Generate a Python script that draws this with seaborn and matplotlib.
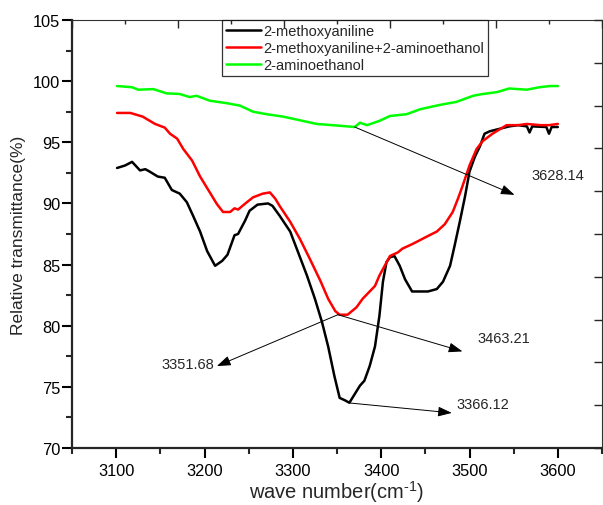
import matplotlib
matplotlib.use("Agg")
import matplotlib.pyplot as plt
import pandas as pd
import numpy as np
import seaborn as sns

# curve readings (wave number, transmittance %)
black_x = [3101, 3110, 3118, 3127, 3133, 3138, 3147, 3155, 3163, 3172, 3180, 3187, 3195, 3203,
           3212, 3220, 3226, 3234, 3238, 3246, 3251, 3260, 3272, 3277, 3285, 3297, 3306, 3316,
           3325, 3333, 3340, 3347, 3353, 3359, 3364, 3370, 3376, 3381, 3387, 3393, 3398, 3402,
           3406, 3410, 3415, 3421, 3427, 3435, 3444, 3453, 3463, 3470, 3478, 3483, 3489, 3495,
           3500, 3506, 3512, 3517, 3523, 3534, 3545, 3555, 3565, 3568, 3571, 3587, 3590, 3593, 3600]
black_y = [92.9, 93.1, 93.4, 92.7, 92.8, 92.6, 92.2, 92.1, 91.1, 90.8, 90.1, 89.0, 87.7, 86.1,
           84.9, 85.3, 85.8, 87.4, 87.5, 88.6, 89.4, 89.9, 90.0, 89.8, 89.0, 87.7, 86.0, 84.1,
           82.2, 80.3, 78.3, 75.9, 74.1, 73.9, 73.7, 74.4, 75.1, 75.5, 76.7, 78.3, 80.8, 83.6,
           85.2, 85.6, 85.7, 84.9, 83.8, 82.8, 82.8, 82.8, 83.0, 83.6, 84.9, 86.5, 88.5, 90.6,
           92.6, 93.8, 94.7, 95.7, 95.9, 96.1, 96.3, 96.4, 96.3, 95.8, 96.3, 96.25, 95.7, 96.25, 96.25]

red_x = [3101, 3116, 3130, 3144, 3155, 3161, 3169, 3176, 3186, 3195, 3206, 3214, 3221, 3229,
         3234, 3238, 3248, 3255, 3266, 3274, 3280, 3285, 3297, 3308, 3319, 3331, 3340, 3348,
         3353, 3362, 3372, 3379, 3387, 3393, 3398, 3404, 3410, 3419, 3424, 3436, 3452, 3463,
         3472, 3481, 3487, 3492, 3500, 3508, 3515, 3526, 3542, 3555, 3565, 3580, 3590, 3600]
red_y = [97.4, 97.4, 97.1, 96.5, 96.2, 95.7, 95.3, 94.45, 93.5, 92.2, 90.9, 89.95, 89.3, 89.3,
         89.6, 89.5, 90.1, 90.5, 90.8, 90.9, 90.4, 89.8, 88.5, 87.1, 85.5, 83.7, 82.2, 81.2,
         80.9, 80.9, 81.5, 82.2, 82.8, 83.25, 84.1, 84.9, 85.7, 86.0, 86.3, 86.7, 87.3, 87.7,
         88.3, 89.3, 90.4, 91.4, 93.1, 94.45, 95.1, 95.7, 96.4, 96.4, 96.5, 96.4, 96.4, 96.5]

green_x = [3101, 3110, 3118, 3125, 3142, 3157, 3172, 3183, 3191, 3206, 3225, 3240, 3255, 3270,
           3289, 3308, 3327, 3345, 3370, 3376, 3384, 3398, 3410, 3429, 3444, 3466, 3485, 3504,
           3515, 3531, 3545, 3565, 3579, 3591, 3600]
green_y = [99.6, 99.55, 99.5, 99.3, 99.35, 99.0, 98.95, 98.7, 98.8, 98.4, 98.2, 98.0, 97.5, 97.3,
           97.1, 96.8, 96.5, 96.4, 96.25, 96.6, 96.4, 96.75, 97.15, 97.3, 97.7, 98.05, 98.3, 98.8,
           98.95, 99.1, 99.4, 99.3, 99.5, 99.6, 99.6]

labels = ["2-methoxyaniline", "2-methoxyaniline+2-aminoethanol", "2-aminoethanol"]
colors = ["#000000", "#ff0000", "#00ff00"]

df = pd.concat([
    pd.DataFrame({"wn": black_x, "T": black_y, "sample": labels[0]}),
    pd.DataFrame({"wn": red_x, "T": red_y, "sample": labels[1]}),
    pd.DataFrame({"wn": green_x, "T": green_y, "sample": labels[2]}),
])

sns.set_style("ticks")
plt.rcParams["font.family"] = ["Liberation Sans", "DejaVu Sans"]
plt.rcParams["mathtext.default"] = "regular"

fig = plt.figure(figsize=(6.03, 5.06), dpi=100)
ax = fig.add_axes([72 / 603, 57 / 506, 530 / 603, 428 / 506])

sns.lineplot(data=df, x="wn", y="T", hue="sample", palette=colors, sort=False,
             estimator=None, lw=1.8, ax=ax, legend=False)

ax.set_xlim(3050, 3650)
ax.set_ylim(70, 105)
ax.set_xticks([3100, 3200, 3300, 3400, 3500, 3600])
ax.set_xticks(np.arange(3050, 3651, 50), minor=True)
ax.set_yticks(np.arange(70, 106, 5))
ax.set_yticks(np.arange(70, 106, 2.5), minor=True)
ax.tick_params(which="major", direction="out", length=7, width=1.5, labelsize=11.8, colors="black")
ax.tick_params(axis="x", which="major", pad=4)
ax.tick_params(axis="y", which="major", pad=1.5)
ax.tick_params(which="minor", direction="out", length=4.5, width=1.5)
for s in ["left", "bottom"]:
    ax.spines[s].set_linewidth(1.6)
for s in ["top", "right"]:
    ax.spines[s].set_visible(True)
    ax.spines[s].set_linewidth(0.8)
    ax.spines[s].set_color("#333333")

ax.set_xlabel("wave number(cm$^{\u2010 1}$)", fontsize=14.5, labelpad=0)
ax.set_ylabel("Relative transmittance(%)", fontsize=12.5, labelpad=5)

# unlabelled top / right scales
axt = ax.twiny()
axt.set_xlim(0, 1)
axt.set_xticks(np.arange(0, 1.01, 0.2))
axt.set_xticks(np.arange(0, 1.01, 0.1), minor=True)
axt.tick_params(axis="x", which="major", direction="in", length=6, width=1, labeltop=False)
axt.tick_params(axis="x", which="minor", direction="in", length=3, width=1)
axr = ax.twinx()
axr.set_ylim(0, 1)
axr.set_yticks(np.arange(0, 1.01, 0.1))
axr.tick_params(axis="y", direction="in", length=6, width=1, labelright=False)
for a in (axt, axr):
    for s in a.spines.values():
        s.set_visible(False)

handles = [plt.Line2D([], [], color=c, lw=1.8) for c in colors]
leg = ax.legend(handles, labels, loc="upper left", bbox_to_anchor=(0.283, 1.0),
                fontsize=10.5, frameon=True, fancybox=False, edgecolor="black",
                borderpad=0.25, handlelength=2.4, handletextpad=0.2, labelspacing=0.22,
                borderaxespad=0)
leg.get_frame().set_linewidth(0.9)
leg.set_zorder(5)

# peak labels with arrows
arrow = dict(arrowstyle="-|>,head_length=0.7,head_width=0.25", color="black", lw=0.7,
             mutation_scale=12, shrinkA=0, shrinkB=0)
ax.annotate("", xy=(3551, 90.7), xytext=(3370, 96.25), arrowprops=arrow, zorder=6)
ax.text(3600, 92.3, "3628.14", fontsize=10.5, ha="center", va="center")
ax.annotate("", xy=(3492, 77.9), xytext=(3351, 80.9), arrowprops=arrow, zorder=6)
ax.text(3539, 79.0, "3463.21", fontsize=10.5, ha="center", va="center")
ax.annotate("", xy=(3214, 76.7), xytext=(3351, 80.9), arrowprops=arrow, zorder=6)
ax.text(3181, 76.9, "3351.68", fontsize=10.5, ha="center", va="center")
ax.annotate("", xy=(3480, 72.87), xytext=(3364.5, 73.68), arrowprops=arrow, zorder=6)
ax.text(3515, 73.6, "3366.12", fontsize=10.5, ha="center", va="center")

fig.savefig("out.png", dpi=100)
